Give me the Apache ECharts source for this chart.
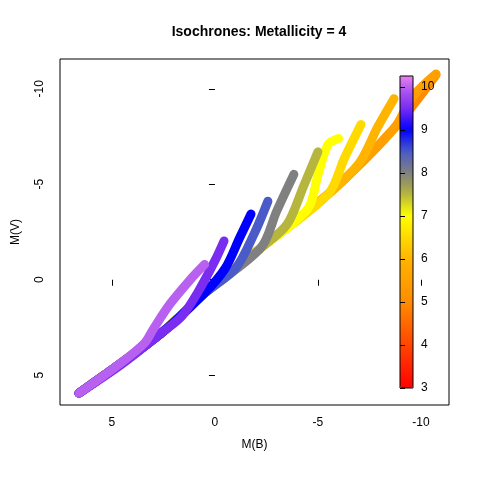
<!DOCTYPE html>
<html>
<head>
<meta charset="utf-8">
<script src="https://cdn.jsdelivr.net/npm/echarts@6/dist/echarts.min.js"></script>
<style>html,body{margin:0;padding:0;background:#fff}#main{width:480px;height:480px}</style>
</head>
<body>
<div id="main"></div>
<script>
// isochrone ages (log age) and their tracks as [M(B), M(V)]
var ages = [5, 5.5, 6, 6.5, 7, 7.5, 8, 8.5, 9, 9.5, 10];
var tracks = [
  [[6.6,5.94],[2.62,2.81],[0.53,0.73],[-2.23,-1.67],[-5.49,-4.48],[-8.69,-7.92],[-10.73,-10.73]],
  [[6.6,5.94],[2.62,2.81],[0.53,0.73],[-2.23,-1.67],[-5.49,-4.48],[-8.69,-7.92],[-9.6,-9.6],[-10.73,-10.78]],
  [[6.6,5.94],[2.62,2.81],[0.53,0.73],[-2.23,-1.67],[-5.49,-4.48],[-7.0,-6.1],[-7.9,-8.0],[-8.69,-9.48]],
  [[6.6,5.94],[2.62,2.81],[0.53,0.73],[-2.23,-1.67],[-5.49,-4.48],[-6.3,-6.4],[-7.09,-8.13]],
  [[6.6,5.94],[2.62,2.81],[0.53,0.73],[-2.23,-1.67],[-4.5,-3.7],[-5.0,-5.5],[-5.49,-7.08],[-6.0,-7.4]],
  [[6.6,5.94],[2.62,2.81],[0.53,0.73],[-2.23,-1.67],[-3.5,-2.9],[-4.3,-4.9],[-5.0,-6.7]],
  [[6.6,5.94],[2.62,2.81],[0.53,0.73],[-2.23,-1.67],[-3.0,-3.6],[-3.83,-5.52]],
  [[6.6,5.94],[2.62,2.81],[0.53,0.73],[-1.0,-0.6],[-1.9,-2.4],[-2.57,-4.11]],
  [[6.6,5.94],[2.62,2.81],[0.53,0.73],[-0.5,-0.6],[-1.2,-2.2],[-1.75,-3.44]],
  [[6.6,5.94],[4.5,4.4],[2.62,2.81],[1.6,1.9],[0.8,0.6],[0,-1.0],[-0.44,-2.03]],
  [[6.6,5.94],[4.5,4.3],[3.4,3.3],[3.0,2.6],[2.2,1.3],[1.2,0.0],[0.5,-0.8]]
];
var xTicks = [5, 0, -5, -10];
var yTicks = [-10, -5, 0, 5];
var barTicks = [3, 4, 5, 6, 7, 8, 9, 10];

var stops = [[3,'#ff0000'],[4,'#ff4500'],[5,'#ff8c00'],[6,'#ffb400'],[7,'#ffff00'],[7.6,'#a8a84a'],
  [8,'#808080'],[8.5,'#4a5ac8'],[9,'#0000ff'],[9.5,'#7a2cf0'],[10,'#b860f0'],[10.25,'#ee82ee']];
function ageColor(a){
  for (var i=1;i<stops.length;i++){
    if (a<=stops[i][0]){
      var t=(a-stops[i-1][0])/(stops[i][0]-stops[i-1][0]);
      return echarts.color.lerp(t,[stops[i-1][1],stops[i][1]]);
    }
  }
  return stops[stops.length-1][1];
}
var barColors=[];
for (var k=0;k<=40;k++) barColors.push(ageColor(3+7.25*k/40));

var series = [];
for (var i=0;i<ages.length;i++){
  series.push({
    type:'line', xAxisIndex:0, yAxisIndex:0, data:tracks[i], showSymbol:false, smooth:0.3,
    lineStyle:{width:9, color:ageColor(ages[i]), cap:'round', join:'round'}, z:2+i
  });
}
series.push({type:'scatter', xAxisIndex:1, yAxisIndex:1, data:[]});

var lab = {fontFamily:'Liberation Sans', fontSize:12, color:'#000'};
var myChart = echarts.init(document.getElementById('main'));
myChart.setOption({
  backgroundColor:'#fff',
  animation:false,
  title:{text:'Isochrones: Metallicity = 4', left:254, top:20, textAlign:'center',
    textStyle:{fontFamily:'Liberation Sans', fontSize:14, fontWeight:'bold', color:'#000'}},
  grid:[
    {left:60, top:59, width:389, height:346, show:true, borderColor:'#000', borderWidth:1, backgroundColor:'transparent'},
    {left:400, top:76, width:13, height:312, show:true, borderColor:'#000', borderWidth:1, backgroundColor:'transparent', z:20}
  ],
  xAxis:[
    {type:'value', gridIndex:0, inverse:true, min:-11.36, max:7.52, splitLine:{show:false},
     name:'M(B)', nameLocation:'middle', nameGap:34, nameTextStyle:lab,
     axisLine:{show:false}, axisTick:{customValues:xTicks, length:6, lineStyle:{color:'#000'}},
     axisLabel:Object.assign({customValues:xTicks, margin:12}, lab)},
    {type:'value', gridIndex:1, show:false, min:0, max:1}
  ],
  yAxis:[
    {type:'value', gridIndex:0, inverse:true, min:-11.56, max:6.56, splitLine:{show:false},
     name:'M(V)', nameLocation:'middle', nameGap:38, nameRotate:90, nameTextStyle:lab,
     axisLine:{show:false}, axisTick:{customValues:yTicks, length:6, lineStyle:{color:'#000'}},
     axisLabel:Object.assign({customValues:yTicks, rotate:90, margin:14}, lab)},
    {type:'value', gridIndex:1, position:'right', min:3, max:10.25, splitLine:{show:false}, z:20,
     axisLine:{show:false}, axisTick:{customValues:barTicks, length:5, lineStyle:{color:'#000'}},
     axisLabel:Object.assign({customValues:barTicks, margin:8}, lab)}
  ],
  visualMap:{type:'continuous', seriesIndex:ages.length, min:3, max:10.25, left:400, top:76,
    itemWidth:13, itemHeight:312, padding:0, calculable:false, text:null, showLabel:false,
    inRange:{color:barColors}, zlevel:0, z:15},
  series:series
});
</script>
</body>
</html>
